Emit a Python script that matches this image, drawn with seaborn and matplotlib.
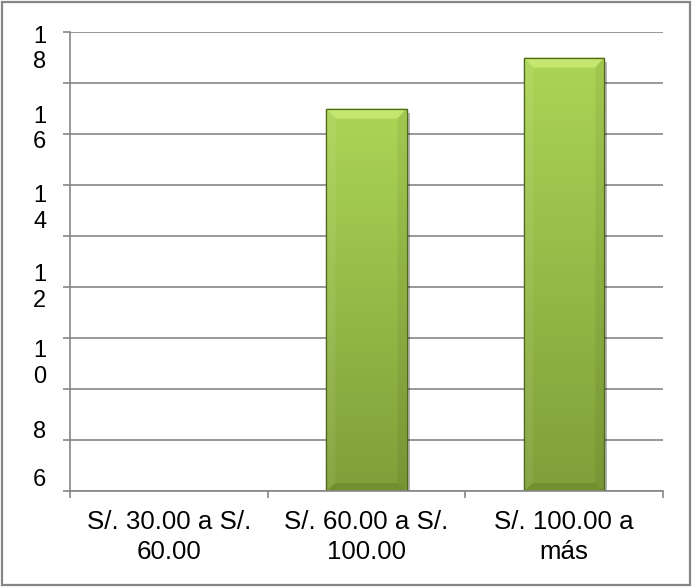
import numpy as np
import matplotlib
matplotlib.use("Agg")
import matplotlib.pyplot as plt
import pandas as pd
import seaborn as sns
from matplotlib.patches import Polygon, Rectangle
from matplotlib.colors import to_rgb

# Chart data
categories = ["S/. 30.00 a S/.\n60.00", "S/. 60.00 a S/.\n100.00", "S/. 100.00 a\nmás"]
values = [0, 15, 17]

# Value axis: gridlines every 2 units, labels stacked digit by digit
grid_values = [0, 2, 4, 6, 8, 10, 12, 14, 16, 18]
tick_values = [18, 16, 14, 12, 10, 8, 6]
label_positions = [17.49, 14.35, 11.22, 8.12, 5.14, 2.43, 0.51]
tick_labels = ["\n".join(str(v)) for v in tick_values]

GRAY = "#868686"

sns.set_theme(style="white")
plt.rcParams["font.family"] = ["Liberation Sans", "DejaVu Sans"]

W, H = 694, 587
fig = plt.figure(figsize=(W / 100, H / 100), dpi=100)
fig.patch.set_facecolor("white")
ax = fig.add_axes([70 / W, 1 - 491 / H, 593 / W, 459 / H])

df = pd.DataFrame({"cat": categories, "val": values})
sns.barplot(data=df, x="cat", y="val", ax=ax, width=0.405, color="#9bc34a",
            saturation=1, edgecolor="#50691f", linewidth=0.9, zorder=3)

ax.set_xlim(-0.5, 2.5)
ax.set_ylim(0, 18)
ax.set_xlabel("")
ax.set_ylabel("")

# pixel size of one data unit, for bevel geometry
p0 = ax.transData.transform((0, 0))
p1 = ax.transData.transform((1, 1))
px_x = p1[0] - p0[0]
px_y = p1[1] - p0[1]

top_c = np.array(to_rgb("#acd556"))
bot_c = np.array(to_rgb("#809f39"))

for patch in list(ax.patches):
    h = patch.get_height()
    if h <= 0:
        patch.set_linewidth(0)
        continue
    x0 = patch.get_x()
    w = patch.get_width()

    # soft shadow on the right side
    ax.add_patch(Rectangle((x0 + w, 0), 3 / px_x, h - 4 / px_y,
                           facecolor="black", alpha=0.28, lw=0, zorder=2.5))

    # vertical gradient fill clipped to the bar
    n = 200
    t = np.linspace(0, 1, n)[:, None]
    col = top_c[None, :] * (1 - t) + bot_c[None, :] * t
    img = np.repeat(col[:, None, :], 20, axis=1)
    im = ax.imshow(img, extent=[x0, x0 + w, 0, h], aspect="auto",
                   origin="upper", interpolation="bilinear", zorder=3.2)
    im.set_clip_path(patch)

    bx = 9 / px_x
    bt = 10 / px_y
    bb = 8 / px_y
    # top bevel
    ax.add_patch(Polygon([(x0, h), (x0 + w, h), (x0 + w - bx, h - bt), (x0 + bx, h - bt)],
                         closed=True, facecolor="#c8ea74", lw=0, alpha=0.9, zorder=3.4))
    ax.add_patch(Polygon([(x0, h), (x0 + bx, h - bt), (x0 + bx, bb), (x0, 0)],
                         closed=True, facecolor="white", lw=0, alpha=0.07, zorder=3.4))
    ax.add_patch(Polygon([(x0 + w, h), (x0 + w - bx, h - bt), (x0 + w - bx, bb), (x0 + w, 0)],
                         closed=True, facecolor="black", alpha=0.06, lw=0, zorder=3.4))
    # bottom bevel
    ax.add_patch(Polygon([(x0, 0), (x0 + w, 0), (x0 + w - bx, bb), (x0 + bx, bb)],
                         closed=True, facecolor="#5f7d24", lw=0, alpha=0.45, zorder=3.4))
    # outline on top of the fill
    ax.add_patch(Rectangle((x0, 0), w, h, fill=False, edgecolor="#50691f", lw=0.9, zorder=3.6))

ax.set_xlim(-0.5, 2.5)
ax.set_ylim(0, 18)

# gridlines and outward ticks
ax.set_yticks(grid_values, minor=True)
ax.grid(False)
ax.grid(which="minor", axis="y", color=GRAY, lw=1.2, zorder=1)
ax.set_yticks(label_positions)
ax.set_yticklabels(tick_labels, fontsize=17, linespacing=1.22)
ax.tick_params(axis="y", which="major", length=0, pad=17, left=True, labelcolor="black")
ax.tick_params(axis="y", which="minor", length=5, width=1.2, color=GRAY, left=True,
               direction="out")

ax.set_xticks([-0.5, 0.5, 1.5, 2.5], minor=True)
ax.tick_params(axis="x", which="major", length=0, pad=14, labelsize=18.6, labelcolor="black")
ax.tick_params(axis="x", which="minor", length=5, width=1.2, color=GRAY, bottom=True,
               direction="out")
for lbl in ax.get_xticklabels():
    lbl.set_linespacing(1.3)

for side in ("top", "right"):
    ax.spines[side].set_visible(False)
for side in ("left", "bottom"):
    ax.spines[side].set_color(GRAY)
    ax.spines[side].set_linewidth(1.2)
    ax.spines[side].set_zorder(4)

# outer frame around the whole chart
fig.add_artist(Rectangle((2 / W, 2 / H), 688 / W, 583 / H, transform=fig.transFigure,
                         fill=False, edgecolor=GRAY, lw=1.6))

fig.savefig("out.png", dpi=100)
